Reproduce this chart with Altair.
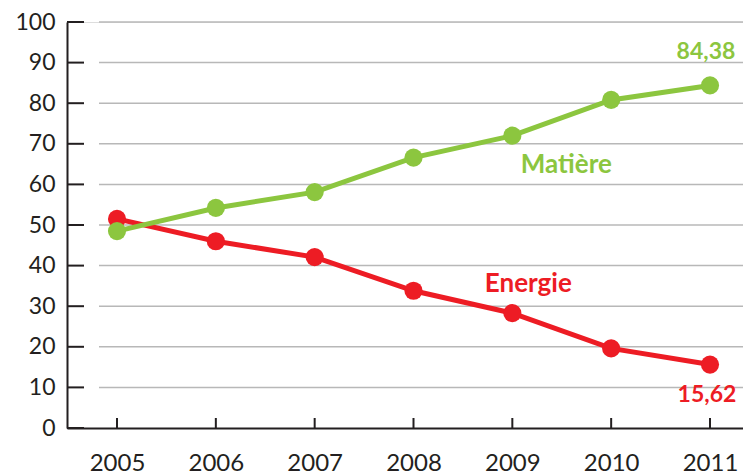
import altair as alt
import pandas as pd

years = [2005, 2006, 2007, 2008, 2009, 2010, 2011]
matiere = [48.5, 54.2, 58.1, 66.6, 72.0, 80.8, 84.38]
energie = [51.5, 46.0, 42.1, 33.8, 28.3, 19.6, 15.62]
y_ticks = [0, 10, 20, 30, 40, 50, 60, 70, 80, 90, 100]
grid_vals = [10, 20, 30, 40, 50, 60, 70, 80, 90, 100]

GREEN = "#8cc63f"
RED = "#ed1c24"
DARK = "#231f20"
GRID = "#b8b8b8"
FONT = "Lato"

W, H = 676, 406

df_m = pd.DataFrame({"year": years, "value": matiere})
df_e = pd.DataFrame({"year": years, "value": energie})
df_grid = pd.DataFrame({"v": grid_vals})
df_yt = pd.DataFrame({"v": y_ticks})
df_xt = pd.DataFrame({"year": years})

xscale = alt.Scale(domain=[2004.494, 2011.334], nice=False, zero=False)
yscale = alt.Scale(domain=[0, 100], nice=False)

x_axis = alt.Axis(values=years, format="d", tickSize=0, grid=False, domainColor=DARK,
                  domainWidth=2, labelFontSize=24, labelColor=DARK, labelFont=FONT,
                  labelPadding=23, title=None)
y_axis = alt.Axis(values=y_ticks, tickSize=0, grid=False, domainColor=DARK,
                  domainWidth=2, labelFontSize=23, labelColor=DARK, labelFont=FONT,
                  labelPadding=12, title=None)

X = lambda f: alt.X(f, scale=xscale, axis=x_axis)
Y = lambda f: alt.Y(f, scale=yscale, axis=y_axis)

grid = alt.Chart(df_grid).mark_rule(color=GRID, strokeWidth=1.5).encode(
    y=Y("v:Q"),
    x=alt.value(32), x2=alt.value(W),
)

xtick_layer = alt.Chart(df_xt).mark_rule(color=DARK, strokeWidth=2).encode(
    x=X("year:Q"),
    y=alt.value(H - 10), y2=alt.value(H),
)

ytick_layer = alt.Chart(df_yt).mark_rule(color=DARK, strokeWidth=2).encode(
    y=Y("v:Q"),
    x=alt.value(0), x2=alt.value(17),
)


def series(df, color):
    base = alt.Chart(df).encode(x=X("year:Q"), y=Y("value:Q"))
    line = base.mark_line(color=color, strokeWidth=5)
    pts = base.mark_point(filled=True, color=color, size=330, opacity=1, shape="circle")
    return line + pts


def label(year, value, text, color, dx, dy, size):
    d = pd.DataFrame({"year": [year], "value": [value], "t": [text]})
    return alt.Chart(d).mark_text(
        color=color, font=FONT, fontSize=size, fontWeight="bold",
        dx=dx, dy=dy, align="center", baseline="middle"
    ).encode(x=X("year:Q"), y=Y("value:Q"), text="t:N")


chart = alt.layer(
    grid,
    xtick_layer,
    ytick_layer,
    series(df_e, RED),
    series(df_m, GREEN),
    label(years[6], matiere[6], "84,38", GREEN, -4, -33, 23),
    label(years[6], energie[6], "15,62", RED, -3, 30, 23),
    label(years[4], matiere[4], "Matière", GREEN, 54, 29, 26),
    label(years[4], energie[4], "Energie", RED, 16, -29, 26),
).properties(
    width=W, height=H,
    autosize=alt.AutoSizeParams(type="none"),
    padding={"left": 59, "top": 14, "right": 0, "bottom": 48},
).configure_view(stroke=None).configure(background="white")

chart.save("out.html", embed_options={"renderer": "svg", "actions": False})
